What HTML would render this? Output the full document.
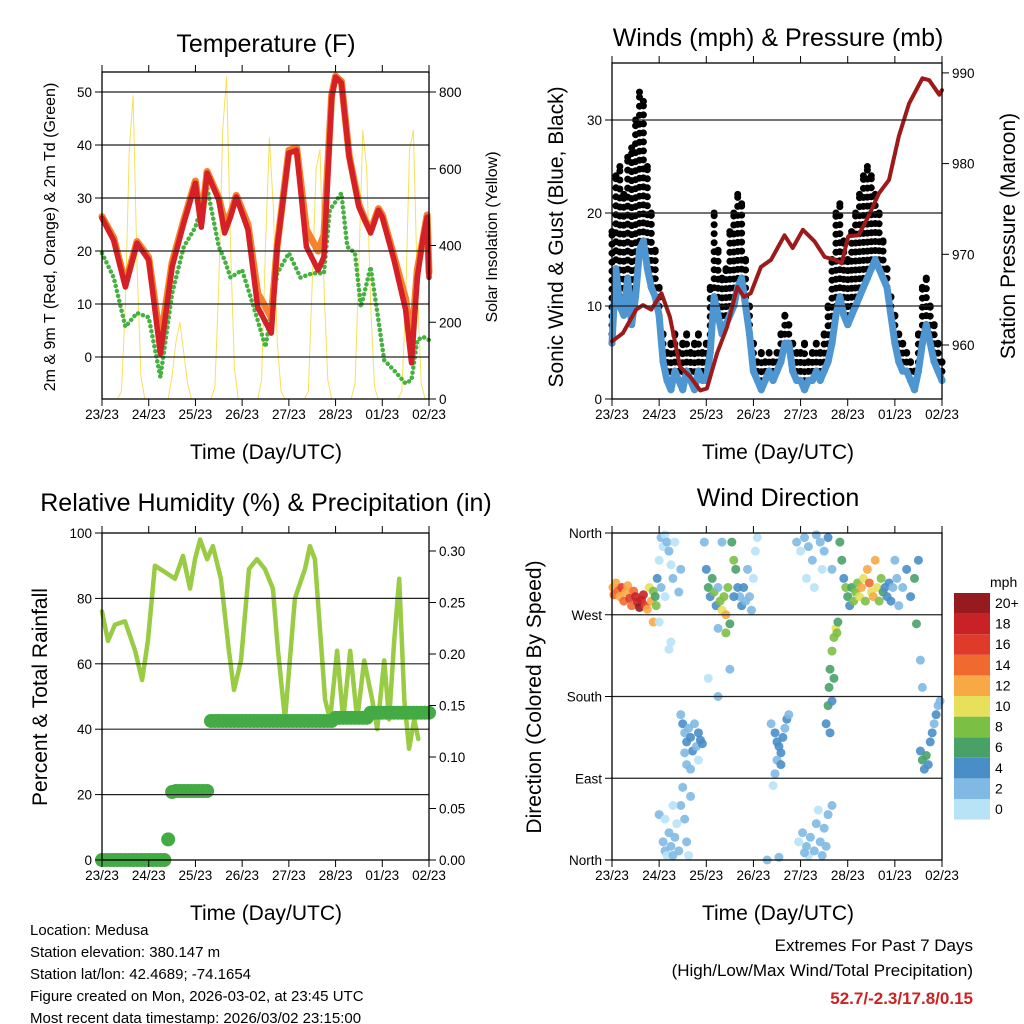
<!DOCTYPE html>
<html><head><meta charset="utf-8"><style>
html,body{margin:0;padding:0;background:#fff;}
svg{display:block;font-family:"Liberation Sans",sans-serif;}
</style></head><body>
<svg id="c" width="1024" height="1024" viewBox="0 0 1024 1024">
<g id="static" font-family="Liberation Sans, sans-serif" fill="#000">
<text x="266" y="52" font-size="25" text-anchor="middle">Temperature (F)</text>
<text x="778" y="46" font-size="25" text-anchor="middle">Winds (mph) &amp; Pressure (mb)</text>
<text x="266" y="511" font-size="25" text-anchor="middle">Relative Humidity (%) &amp; Precipitation (in)</text>
<text x="778" y="506" font-size="25" text-anchor="middle">Wind Direction</text>
<text x="266" y="459" font-size="21" text-anchor="middle">Time (Day/UTC)</text>
<text x="778" y="459" font-size="21" text-anchor="middle">Time (Day/UTC)</text>
<text x="266" y="920" font-size="21" text-anchor="middle">Time (Day/UTC)</text>
<text x="778" y="920" font-size="21" text-anchor="middle">Time (Day/UTC)</text>
<text transform="translate(55,237) rotate(-90)" font-size="16" text-anchor="middle">2m &amp; 9m T (Red, Orange) &amp; 2m Td (Green)</text>
<text transform="translate(497,237) rotate(-90)" font-size="16" text-anchor="middle">Solar Insolation (Yellow)</text>
<text transform="translate(563,237) rotate(-90)" font-size="21" text-anchor="middle">Sonic Wind &amp; Gust (Blue, Black)</text>
<text transform="translate(1015,236) rotate(-90)" font-size="21" text-anchor="middle">Station Pressure (Maroon)</text>
<text transform="translate(47,697) rotate(-90)" font-size="21" text-anchor="middle">Percent &amp; Total Rainfall</text>
<text transform="translate(541,697) rotate(-90)" font-size="21" text-anchor="middle">Direction (Colored By Speed)</text>
<g font-size="15">
<text x="30" y="935">Location: Medusa</text>
<text x="30" y="957">Station elevation: 380.147 m</text>
<text x="30" y="979">Station lat/lon: 42.4689; -74.1654</text>
<text x="30" y="1001">Figure created on Mon, 2026-03-02, at 23:45 UTC</text>
<text x="30" y="1023">Most recent data timestamp: 2026/03/02 23:15:00</text>
</g>
<g font-size="17" text-anchor="end">
<text x="973" y="951">Extremes For Past 7 Days</text>
<text x="973" y="976">(High/Low/Max Wind/Total Precipitation)</text>
<text x="973" y="1004" fill="#cc2222" font-weight="bold">52.7/-2.3/17.8/0.15</text>
</g>
<text x="990" y="587" font-size="14">mph</text>
</g>
</svg>
<script>
// ---------- DATA ----------
const dayLabels = ["23/23","24/23","25/23","26/23","27/23","28/23","01/23","02/23"];
const tHours = [0,6,12,18,24,30,36,42,48,51,54,60,63,66,69,75,80,87,90,96,100,105,111,114,118,120,123,127,132,135,138,142,144,150,156,159,162,165,167,168];
const tRed   = [26.2,22,13.2,21.5,18.3,0.6,17,25.3,32.8,24.5,34.7,29.6,23.4,26.4,30.2,24,9.4,4.5,20.8,38.5,39,20.8,16.4,18.9,49,52.8,51.7,37.7,28.3,25.8,23.4,27.7,26.4,18.3,8.9,-1.1,15,22.6,26.4,15];
const tOrange= [26.5,22.5,13.8,21.8,18.8,3,17.8,25.8,33.2,25.5,35,30,25.5,27,30.5,25,12,7.5,21,39,39.5,24,20,23,49.5,53,52,38,28.8,26,23.8,28,26.8,19,11,2.5,16.5,22.5,26.8,16];
const tdHours = [0,6,12,18,24,30,36,42,48,54,60,63,66,72,78,84,90,96,102,108,114,117,123,126,130,133,138,142,145,150,156,159,162,165,168];
const tdGreen = [19.6,15,5.7,8.3,7.5,-3.8,12,20.8,24.5,32,20.8,18.3,15,16.4,9.4,1.9,15.8,19.6,15,15.8,15.8,27.7,30.9,20.8,19.6,9.4,17,7,-0.6,-2.5,-5,-4.3,3.2,3.8,3.2];
const insolation = [0,0,0,0,0,20,250,650,790,350,60,0, 0,0,0,0,0,0,60,150,200,120,40,0, 0,0,0,0,0,30,300,700,840,400,80,0, 0,0,0,0,0,50,400,680,500,150,20,0, 0,0,0,0,0,20,300,600,650,300,50,0, 0,0,0,0,0,40,350,700,600,250,30,0, 0,0,0,0,0,20,250,650,700,300,40,0, 0];
const windSpeed = [6,14,10,9,13,8,11,16,17,14,12,11, 9,4,2,1,3,2,1,3,2,1,3,2, 2,5,11,9,7,8,9,10,12,13,10,7, 3,2,1,2,3,2,3,4,6,6,3,2, 2,1,2,2,3,2,3,4,6,9,11,9, 8,9,10,11,12,13,14,15,14,13,12,9, 6,4,3,3,2,1,3,6,8,6,4,3, 2];
const windGust  = [18,24,25,22,26,27,30,33,32,25,20,16, 12,7,5,6,7,5,6,7,5,6,7,5, 6,12,20,16,13,14,18,20,22,21,15,10, 6,4,5,4,5,4,5,7,9,8,6,5, 5,6,4,5,6,5,7,10,15,20,21,17, 15,18,20,22,24,25,24,22,20,17,14,11, 9,7,6,5,4,3,7,12,13,10,8,6, 4];
const pHours = [0,5.5,12.3,15.8,20,25.2,29.5,34.6,39.8,44.9,48.3,53.5,58.6,63.8,67.2,70.6,75.8,81,87.8,92,97.2,103.2,108.3,113.5,116.9,120.3,125.5,130.6,135.8,141,146,151.2,158,161.5,166.6,168];
const pressure = [960.4,961.3,963.9,964.4,963.9,965.7,963.1,957.6,956.5,955.0,955.2,959.1,962.0,966.4,965.3,965.7,968.6,969.4,972.1,970.7,972.7,971.4,969.7,969.4,969.0,972.0,972.1,974.2,976.7,978.2,983.0,986.6,989.4,989.2,987.6,988.1];
const rhHours = [0,3.1,6.7,11.8,17,20.6,23.6,27.2,32.4,37.5,41.6,45.2,47.8,50.4,54,57,61.1,65.2,67.8,71.4,75.5,79.6,83.7,87.8,90.4,94,99.1,104.3,106.8,109.4,114.6,117.2,120.8,123.9,127.5,131.1,134.7,138.8,141.4,145,147.5,150.1,152.7,155.3,157.8,160.4,162.5];
const rhValues= [76,67,72,73,64,55,67,90,88,86,93,83,92,98,92,96,86,64,52,61,89,92,89,83,64,43,80,89,96,92,49,43,64,43,64,43,61,49,40,61,43,67,86,49,34,43,37];
const precipTotal = [0,0,0,0,0,0,0,0,0,0,0,0, 0,0,0,0,0,0.02,0.066,0.067,0.067,0.067,0.067,0.067, 0.067,0.067,0.067,0.067,0.135,0.135,0.135,0.135,0.135,0.135,0.135,0.135, 0.135,0.135,0.135,0.135,0.135,0.135,0.135,0.135,0.135,0.135,0.135,0.135, 0.135,0.135,0.135,0.135,0.135,0.135,0.135,0.135,0.135,0.135,0.135,0.135, 0.138,0.138,0.138,0.138,0.138,0.138,0.138,0.138,0.138,0.143,0.143,0.143, 0.143,0.143,0.143,0.143,0.143,0.143,0.143,0.143,0.143,0.143,0.143,0.143, 0.143];
const wdHour = [0.5,1,2,3,4,5,6,7,8,9,10,11,12,13,14,15,16,17,18,19,20,21,22,22.5,21, 23,24,25,26,27,28,29,30,31,32,25,27,24,30,29,34,35, 35,36,37,38,39,40,41,42,43,44,45,46,37,38,40,44, 24,26,27,28,29,30,31,32,33,34,35,36,37,38,39,40,31,27, 47,48,49,50,51,52,53,54,55,56,57,58,59,60,61,62,63,64,65,66,67,68,69,70,71,72,73,74,62,58,54,56,49,54,60, 81,83,84,85,86,87,88,89,90,84,83,82,86,79,85, 94,96,98,100,102,104,106,108,110,112,99,103,107, 95,97,99,100,101,103,104,106,107,108,109,110,112,105,98, 109,110,110.5,111,112,113,114,114.5,115,113,112,111, 116,117,118,119,120,121,122,123,124,125,126,127,128,129,130,131,132,133,134,135,136,137,138,139,140,141,142,143,144,145,146,148,150,152,154,156,155, 157,158,159,160,161,162,163,164,165,166,167,158,157];
const wdDir = [300,292,305,296,290,300,285,295,302,288,280,296,290,284,278,286,292,280,276,300,285,296,290,280,262, 310,330,355,345,358,350,340,325,310,350,300,290,262,240,232,295,320, 160,150,140,130,145,135,120,150,125,140,132,128,118,105,100,110, 50,20,10,5,30,15,5,25,40,10,60,80,45,20,5,70,60,45, 350,320,300,290,310,295,280,300,285,275,290,270,300,260,350,330,320,300,290,280,300,285,320,290,275,310,340,355,290,250,255,350,200,180,210, 150,140,130,125,118,135,145,155,160,110,95,82,105,0,3, 350,340,355,345,330,358,350,340,355,320,310,300,320, 20,30,15,5,25,10,40,20,5,35,15,50,60,55,8, 150,170,190,210,230,245,255,250,262,200,175,140, 350,330,310,300,290,280,300,285,295,305,290,300,310,285,320,305,295,290,330,300,285,310,295,300,290,305,285,300,330,310,280,300,320,290,310,330,260, 120,110,100,115,105,130,140,150,160,170,175,190,220];
const wdSpeed = [12,14,13,15,12,16,14,13,12,17,15,14,18,19,20,19,18,17,12,10,12,9,7,8,13, 4,1,2,0,1,2,3,1,2,0,2,1,1,0,0,3,2, 3,4,3,4,3,5,4,2,3,4,5,4,2,3,2,1, 2,2,3,1,2,3,2,2,1,3,2,3,2,3,1,2,0,1, 2,4,6,5,7,8,4,3,8,10,9,12,8,7,7,8,6,4,3,5,4,2,3,2,2,1,1,0,5,8,3,2,1,3,3, 3,4,5,4,5,4,3,4,3,2,2,1,5,3,2, 2,1,2,3,2,3,2,3,4,2,1,1,0, 1,2,2,1,3,2,3,2,3,2,3,2,2,1,3, 5,6,7,6,8,9,10,8,7,6,5,4, 7,6,5,8,6,4,7,8,9,8,10,12,11,9,13,14,11,12,13,10,9,8,6,5,4,4,4,2,3,2,2,3,4,5,6,5,6, 4,6,5,7,4,5,4,3,4,3,3,3,2];
const speedColors = ["#b8e3f7","#80b9e3","#4a8ec8","#48a268","#7cbf45","#e6e05a","#f8a845","#f06a30","#e03a2a","#c82226","#961a1e"];
const speedLabels = ["0","2","4","6","8","10","12","14","16","18","20+"];

// ---------- HELPERS ----------
const NS="http://www.w3.org/2000/svg";
const svg=document.getElementById('c');
function mk(tag,attrs,parent){const e=document.createElementNS(NS,tag);for(const k in attrs)e.setAttribute(k,attrs[k]);(parent||svg).appendChild(e);return e;}
function txt(s,x,y,size,anchor,parent){const t=mk('text',{x:x,y:y,'font-size':size,'text-anchor':anchor||'middle',fill:'#000'},parent);t.textContent=s;return t;}
function panel(x0,x1,y0,y1){return {x0,x1,y0,y1,X:h=>x0+(x1-x0)*h/168};}
const P1=panel(102,429,72,399), P2=panel(612,942,63,399), P3=panel(102,429,533,860), P4=panel(612,942,533,860);
const Ytemp=v=>357-v*5.3, Yins=v=>399-v*0.38375;
const Ywind=v=>399-v*9.3, Ypres=p=>345-(p-960)*9.07;
const Yrh=v=>860-v*3.27, Ypre=v=>860-v*1030;
const Ydir=d=>533+(360-d)/360*327;
function poly(xs,ys,X,Y,stroke,w,parent,dash){let d='';for(let i=0;i<xs.length;i++)d+=(i?'L':'M')+X(xs[i]).toFixed(1)+','+Y(ys[i]).toFixed(1);const a={d:d,fill:'none',stroke:stroke,'stroke-width':w,'stroke-linejoin':'round','stroke-linecap':'round'};if(dash)a['stroke-dasharray']=dash;return mk('path',a,parent);}
function frame(P,leftTicks,Yl,leftLbl,rightTicks,Yr,rightLbl,grid,name){
  const g=mk('g',{});
  
  
  grid.forEach(v=>{mk('line',{x1:P.x0,x2:P.x1,y1:Yl(v),y2:Yl(v),stroke:'#222','stroke-width':1.2},g);});
  mk('rect',{x:P.x0,y:P.y0,width:P.x1-P.x0,height:P.y1-P.y0,fill:'none',stroke:'#000','stroke-width':1.3},g);
  for(let d=0;d<8;d++){const x=P.X(d*24);mk('line',{x1:x,x2:x,y1:P.y1,y2:P.y1+7,stroke:'#000'},g);mk('line',{x1:x,x2:x,y1:P.y0,y2:P.y0-7,stroke:'#000'},g);
    const t=txt(dayLabels[d],x,P.y1+20,13.5,'middle',g);
    
    }
  leftTicks.forEach((v,i)=>{const y=Yl(v);mk('line',{x1:P.x0-7,x2:P.x0,y1:y,y2:y,stroke:'#000'},g);
    const t=txt(leftLbl[i],P.x0-10,y+5,13.5,'end',g);
    
    });
  rightTicks.forEach((v,i)=>{const y=Yr(v);mk('line',{x1:P.x1,x2:P.x1+7,y1:y,y2:y,stroke:'#000'},g);
    const t=txt(rightLbl[i],P.x1+10,y+5,13.5,'start',g);
    
    });
  return g;
}
const hours2=insolation.map((_,i)=>i*2);

// ---------- PANEL 1 ----------
const g1=mk('g',{});


const ins=poly(hours2,insolation,P1.X,Yins,'#f7e05a',1,g1);


const td=poly(tdHours,tdGreen,P1.X,Ytemp,'#46b040',4.5,g1,'0.1 5');


const t9=poly(tHours,tOrange,P1.X,Ytemp,'#f5822c',7,g1);


const t2=poly(tHours,tRed,P1.X,Ytemp,'#d42026',5.5,g1);


frame(P1,[0,10,20,30,40,50],Ytemp,['0','10','20','30','40','50'],[0,200,400,600,800],Yins,['0','200','400','600','800'],[0,10,20,30,40,50],'temperature');

// ---------- PANEL 2 ----------
const g2=mk('g',{});


windGust.forEach((v,i)=>{
  const b=mk('line',{x1:P2.X(hours2[i]),x2:P2.X(hours2[i]),y1:Ywind(windSpeed[i]),y2:Ywind(v),stroke:'#000','stroke-width':7,'stroke-linecap':'round','stroke-dasharray':'0 9'},g2);
  
  
  const c=mk('circle',{cx:P2.X(hours2[i]),cy:Ywind(v),r:3.5,fill:'#000'},g2);
  
  
});
const wl=poly(hours2,windSpeed,P2.X,Ywind,'#4d96d2',7,g2);


const pl=poly(pHours,pressure,P2.X,Ypres,'#9e1a1a',4,g2);


frame(P2,[0,10,20,30],Ywind,['0','10','20','30'],[960,970,980,990],Ypres,['960','970','980','990'],[10,20,30],'wind');

// ---------- PANEL 3 ----------
const g3=mk('g',{});


const rl=poly(rhHours,rhValues,P3.X,Yrh,'#99cc44',4.5,g3);


precipTotal.forEach((v,i)=>{
  const c=mk('circle',{cx:P3.X(hours2[i]),cy:Ypre(v),r:7,fill:'#44aa44'},g3);
  
  
});
frame(P3,[0,20,40,60,80,100],Yrh,['0','20','40','60','80','100'],[0,0.05,0.1,0.15,0.2,0.25,0.3],Ypre,['0.00','0.05','0.10','0.15','0.20','0.25','0.30'],[20,40,60,80],'humidity');

// ---------- PANEL 4 ----------
const g4=mk('g',{});


wdHour.forEach((h,i)=>{
  const k=Math.min(10,Math.floor(wdSpeed[i]/2));
  const c=mk('circle',{cx:P4.X(h),cy:Ydir(wdDir[i]),r:4.5,fill:speedColors[k],opacity:0.9},g4);
  
  
});
frame(P4,[360,270,180,90,0],Ydir,['North','West','South','East','North'],[],Ydir,[],[270,180,90],'direction');
// colorbar
const cb=mk('g',{});


speedColors.forEach((col,i)=>{
  const y=799-i*20.6;
  const r=mk('rect',{x:954,y:y,width:36,height:20.6,fill:col},cb);
  
  
  const t=txt(speedLabels[i],995,y+15,14,'start',cb);
  
  
});
</script>
</body></html>
